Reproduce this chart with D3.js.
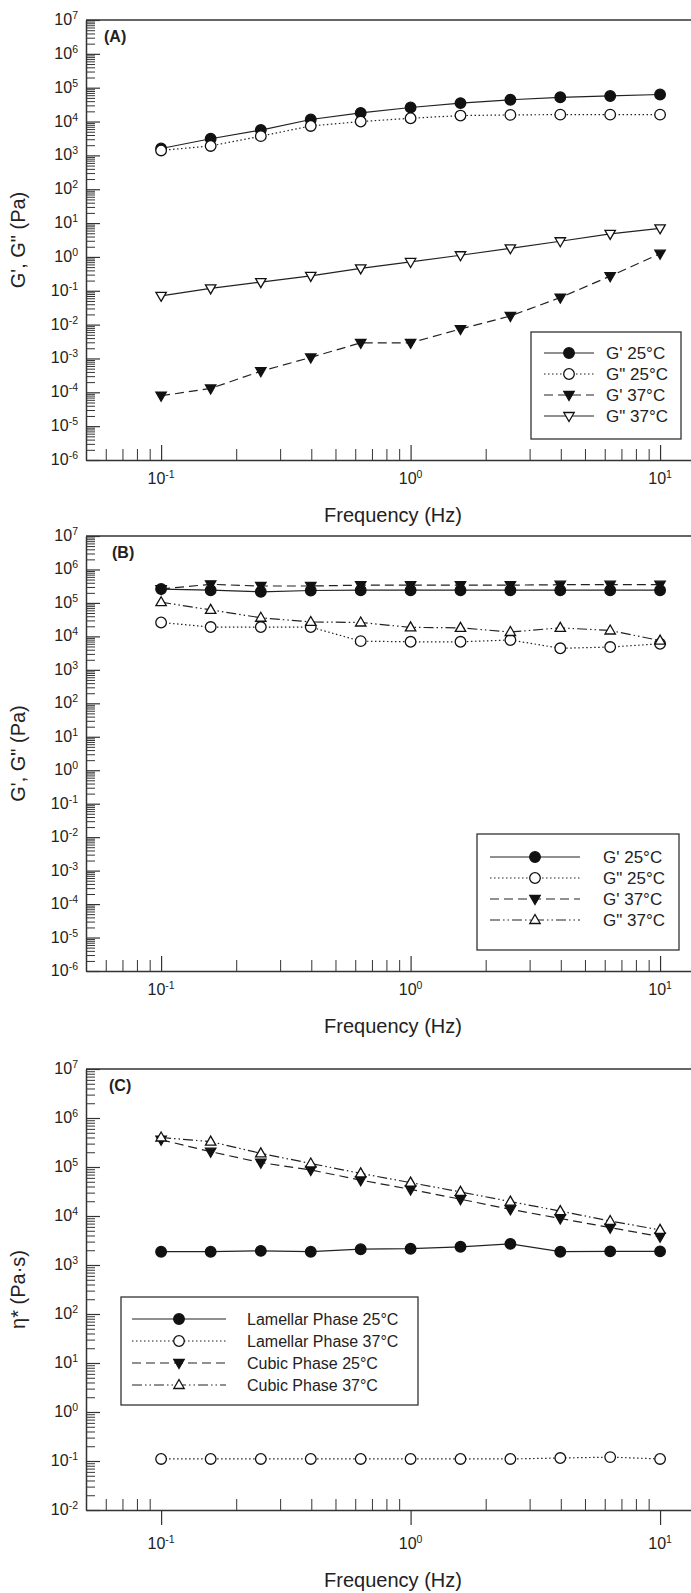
<!DOCTYPE html>
<html>
<head>
<meta charset="utf-8">
<script src="https://cdn.jsdelivr.net/npm/d3@7"></script>
<style>
body { margin: 0; background: #fff; }
svg text { font-family: "Liberation Sans", Arial, sans-serif; fill: #222; }
</style>
</head>
<body>
<svg id="chart" width="691" height="1593"></svg>
<script>
// frequency sweep, 5 points per decade
var freq = [0.1, 0.158, 0.251, 0.398, 0.631, 1, 1.585, 2.512, 3.981, 6.31, 10];

// (A) lamellar
var gp25A  = [1600, 3100, 5600, 11500, 18000, 26000, 35000, 44000, 52000, 57000, 63000];
var gpp25A = [1400, 1900, 3700, 7400, 10000, 12500, 15000, 15700, 16000, 16000, 16000];
var gp37A  = [7.9e-5, 1.3e-4, 4.2e-4, 1.07e-3, 2.9e-3, 2.9e-3, 7.4e-3, 1.8e-2, 6.3e-2, 0.27, 1.25];
var gpp37A = [0.071, 0.118, 0.18, 0.275, 0.46, 0.71, 1.12, 1.8, 2.9, 4.8, 7.0];

// (B) cubic
var gp25B  = [2.6e5, 2.4e5, 2.15e5, 2.35e5, 2.4e5, 2.4e5, 2.4e5, 2.4e5, 2.4e5, 2.4e5, 2.4e5];
var gpp25B = [2.6e4, 1.9e4, 1.9e4, 1.9e4, 7200, 6900, 6900, 7800, 4400, 4800, 6000];
var gp37B  = [2.6e5, 3.6e5, 3.2e5, 3.2e5, 3.4e5, 3.4e5, 3.4e5, 3.4e5, 3.5e5, 3.5e5, 3.5e5];
var gpp37B = [1.05e5, 6.2e4, 3.6e4, 2.7e4, 2.6e4, 1.86e4, 1.8e4, 1.35e4, 1.8e4, 1.5e4, 7500];

// (C) complex viscosity
var lam25 = [1870, 1870, 1940, 1870, 2100, 2150, 2350, 2700, 1870, 1900, 1900];
var lam37 = [0.11, 0.11, 0.11, 0.11, 0.11, 0.11, 0.11, 0.11, 0.115, 0.12, 0.11];
var cub25 = [3.6e5, 2.05e5, 1.23e5, 8.7e4, 5.4e4, 3.5e4, 2.2e4, 1.37e4, 8900, 5800, 3800];
var cub37 = [4.0e5, 3.3e5, 1.9e5, 1.18e5, 7.4e4, 4.8e4, 3.1e4, 1.97e4, 1.26e4, 7900, 5200];

var legendA = ["G' 25°C", "G\" 25°C", "G' 37°C", "G\" 37°C"];
var legendB = ["G' 25°C", "G\" 25°C", "G' 37°C", "G\" 37°C"];
var legendC = ["Lamellar Phase 25°C", "Lamellar Phase 37°C", "Cubic Phase 25°C", "Cubic Phase 37°C"];
var xTicks = [-1, 0, 1];

var svg = d3.select("#chart");
var axisLeft = 86;

var x = d3.scaleLog().domain([0.05, 15]).range([axisLeft, 704]);

// line styles
var SOLID = null, DOT = "1.5,2.5", DASH = "9,5", DASHDOT = "10,3,1.5,3,1.5,3";

function markerPath(type) {
    if (type == "circle") return d3.symbol().type(d3.symbolCircle).size(Math.PI * 5.3 * 5.3)();
    if (type == "up") return "M0,-5.5L5.2,3.5L-5.2,3.5Z";
    return "M0,5.5L5.2,-3.5L-5.2,-3.5Z";
}

function drawPanel(p) {
    var y = d3.scaleLog().domain(p.ydomain).range([p.bottom, p.top]);
    var g = svg.append("g");

    // frame: top line
    g.append("line")
        .attr("x1", axisLeft).attr("x2", 691)
        .attr("y1", p.top).attr("y2", p.top)
        .attr("stroke", "#333").attr("stroke-width", 1.5);

    // y ticks
    var lo = Math.round(Math.log10(p.ydomain[0])), hi = Math.round(Math.log10(p.ydomain[1]));
    var majors = d3.range(lo, hi + 1).map(function(e) { return Math.pow(10, e); });
    var minors = [];
    d3.range(lo, hi).forEach(function(e) {
        for (var m = 2; m < 10; m++) minors.push(m * Math.pow(10, e));
    });
    g.append("g").attr("transform", "translate(" + axisLeft + ",0)")
        .call(d3.axisRight(y).tickValues(minors).tickSize(9).tickSizeOuter(0).tickFormat(""))
        .call(function(s) { s.select(".domain").remove(); s.selectAll("line").attr("stroke", "#333"); });
    g.append("g").attr("transform", "translate(" + axisLeft + ",0)")
        .call(d3.axisRight(y).tickValues(majors).tickSize(14).tickSizeOuter(0).tickFormat(""))
        .call(function(s) { s.select(".domain").attr("stroke", "#333").attr("stroke-width", 1.5); s.selectAll("line").attr("stroke", "#333").attr("stroke-width", 1.2); });

    majors.forEach(function(v) {
        var t = g.append("text").attr("x", axisLeft - 8).attr("y", y(v) + 5)
            .attr("text-anchor", "end").attr("font-size", 16);
        t.append("tspan").text("10");
        t.append("tspan").attr("dy", -6).attr("font-size", 10.5).text(Math.round(Math.log10(v)));
    });

    // x ticks
    var xMin = [];
    [-2, -1, 0, 1].forEach(function(e) {
        for (var m = 2; m < 10; m++) {
            var v = m * Math.pow(10, e);
            if (v > 0.05 && v < 15) xMin.push(v);
        }
    });
    var xMaj = xTicks.map(function(e) { return Math.pow(10, e); });
    g.append("g").attr("transform", "translate(0," + p.bottom + ")")
        .call(d3.axisTop(x).tickValues(xMin).tickSize(11).tickSizeOuter(0).tickFormat(""))
        .call(function(s) { s.select(".domain").attr("stroke", "#333").attr("stroke-width", 1.5); s.selectAll("line").attr("stroke", "#333"); });
    var majAxis = p.outTicks ? d3.axisBottom(x) : d3.axisTop(x);
    g.append("g").attr("transform", "translate(0," + p.bottom + ")")
        .call(majAxis.tickValues(xMaj).tickSize(15).tickSizeOuter(0).tickFormat(""))
        .call(function(s) { s.select(".domain").remove(); s.selectAll("line").attr("stroke", "#333").attr("stroke-width", 1.2); });

    xTicks.forEach(function(e) {
        var t = g.append("text").attr("x", x(Math.pow(10, e)))
            .attr("y", p.bottom + (p.outTicks ? 39 : 24))
            .attr("text-anchor", "middle").attr("font-size", 16);
        t.append("tspan").text("10");
        t.append("tspan").attr("dy", -6).attr("font-size", 10.5).text(e);
    });

    // axis titles
    g.append("text")
        .attr("x", 393).attr("y", p.bottom + (p.outTicks ? 77 : 62))
        .attr("text-anchor", "middle").attr("font-size", 20)
        .text("Frequency (Hz)");
    g.append("text")
        .attr("transform", "translate(25," + ((p.top + p.bottom) / 2) + ") rotate(-90)")
        .attr("text-anchor", "middle").attr("font-size", 20)
        .text(p.ytitle);

    // panel letter
    g.append("text").attr("x", p.letterX).attr("y", p.top + 22)
        .attr("font-size", 16).attr("font-weight", "bold").text(p.letter);

    // series
    var line = d3.line().x(function(d) { return x(d[0]); }).y(function(d) { return y(d[1]); });
    p.series.forEach(function(s) {
        var pts = freq.map(function(f, i) { return [f, s.values[i]]; });
        g.append("path").datum(pts)
            .attr("d", line).attr("fill", "none")
            .attr("stroke", "#222").attr("stroke-width", 1.2)
            .attr("stroke-dasharray", s.dash);
        g.selectAll(null).data(pts).enter().append("path")
            .attr("d", markerPath(s.marker))
            .attr("transform", function(d) { return "translate(" + x(d[0]) + "," + y(d[1]) + ")"; })
            .attr("fill", s.filled ? "#111" : "#fff")
            .attr("stroke", "#111").attr("stroke-width", 1.3);
    });

    // legend
    var L = p.legend;
    g.append("rect").attr("x", L.x).attr("y", L.y).attr("width", L.w).attr("height", L.h)
        .attr("fill", "#fff").attr("stroke", "#333").attr("stroke-width", 1.3);
    p.series.forEach(function(s, i) {
        var ry = L.y + L.first + i * L.step;
        g.append("line").attr("x1", L.l1).attr("x2", L.l2).attr("y1", ry).attr("y2", ry)
            .attr("stroke", "#222").attr("stroke-width", 1.2).attr("stroke-dasharray", s.dash);
        g.append("path").attr("d", markerPath(s.marker))
            .attr("transform", "translate(" + ((L.l1 + L.l2) / 2) + "," + ry + ")")
            .attr("fill", s.filled ? "#111" : "#fff").attr("stroke", "#111").attr("stroke-width", 1.3);
        g.append("text").attr("x", L.tx).attr("y", ry + 6).attr("font-size", L.fs).text(L.labels[i]);
    });
}

drawPanel({
    top: 20, bottom: 460, ydomain: [1e-6, 1e7], letter: "(A)", letterX: 104,
    ytitle: "G', G\" (Pa)",
    series: [
        { values: gp25A, marker: "circle", filled: true, dash: SOLID },
        { values: gpp25A, marker: "circle", filled: false, dash: DOT },
        { values: gp37A, marker: "down", filled: true, dash: DASH },
        { values: gpp37A, marker: "down", filled: false, dash: SOLID }
    ],
    legend: { x: 531, y: 332, w: 150, h: 107, first: 21, step: 21, l1: 544, l2: 594, tx: 606, fs: 17, labels: legendA }
});

drawPanel({
    top: 536, bottom: 971, ydomain: [1e-6, 1e7], letter: "(B)", letterX: 112,
    ytitle: "G', G\" (Pa)",
    series: [
        { values: gp25B, marker: "circle", filled: true, dash: SOLID },
        { values: gpp25B, marker: "circle", filled: false, dash: DOT },
        { values: gp37B, marker: "down", filled: true, dash: DASH },
        { values: gpp37B, marker: "up", filled: false, dash: DASHDOT }
    ],
    legend: { x: 477, y: 834, w: 202, h: 116, first: 23, step: 21, l1: 490, l2: 580, tx: 603, fs: 17, labels: legendB }
});

drawPanel({
    top: 1069, bottom: 1510, ydomain: [1e-2, 1e7], letter: "(C)", letterX: 109, outTicks: true,
    ytitle: "η* (Pa·s)",
    series: [
        { values: lam25, marker: "circle", filled: true, dash: SOLID },
        { values: lam37, marker: "circle", filled: false, dash: DOT },
        { values: cub25, marker: "down", filled: true, dash: DASH },
        { values: cub37, marker: "up", filled: false, dash: DASHDOT }
    ],
    legend: { x: 121, y: 1297, w: 297, h: 108, first: 22, step: 22, l1: 132, l2: 226, tx: 247, fs: 16, labels: legendC }
});
</script>
</body>
</html>
